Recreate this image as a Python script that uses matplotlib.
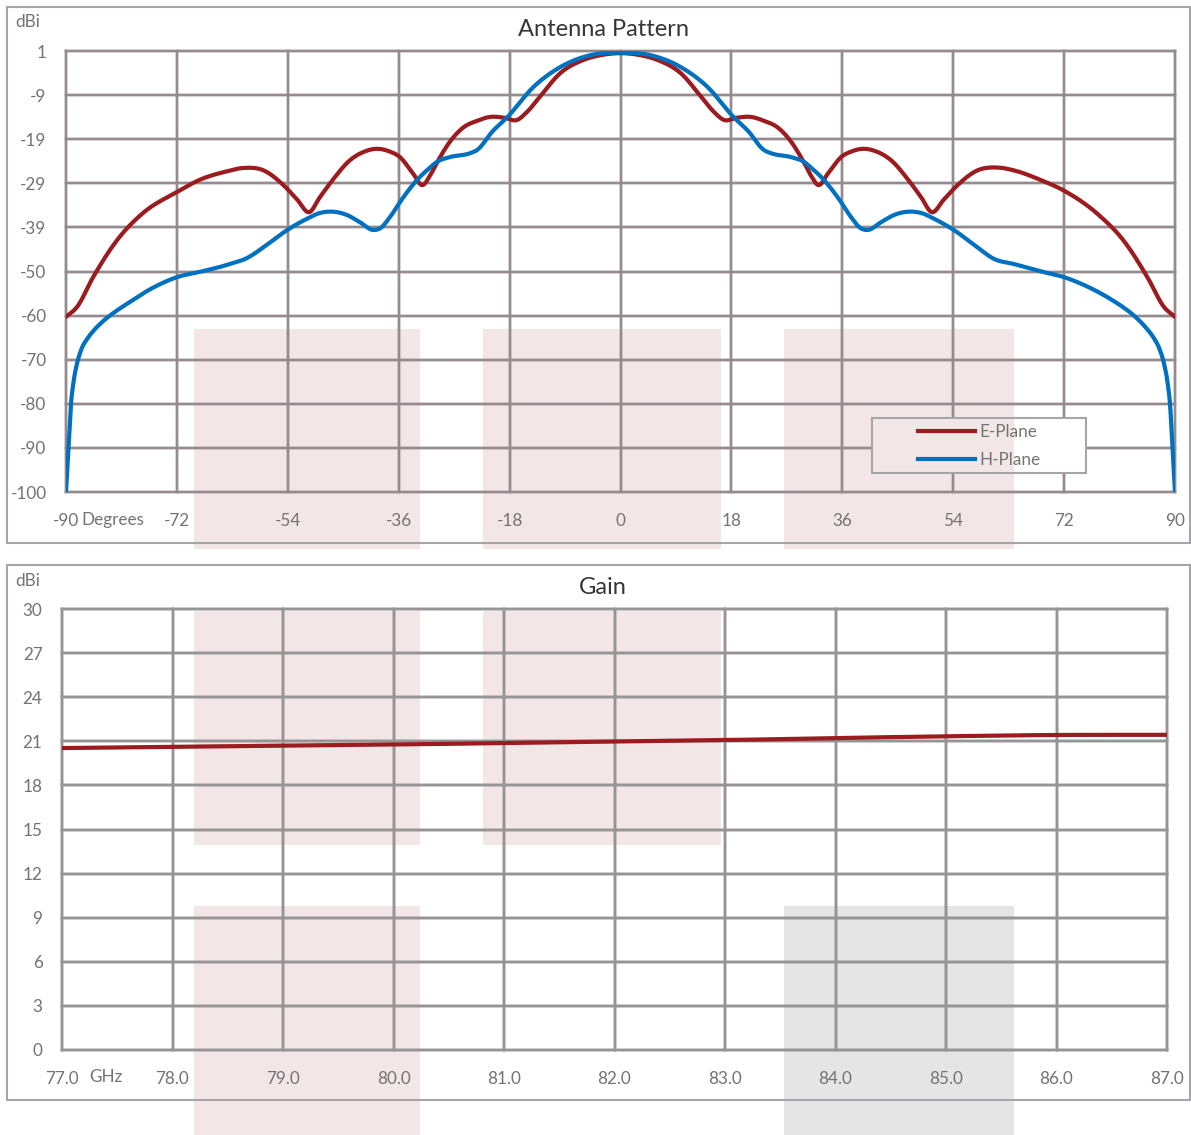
import matplotlib
matplotlib.use("Agg")
import matplotlib.pyplot as plt
from matplotlib.patches import Rectangle
from matplotlib.lines import Line2D
import numpy as np

# ---------------- data ----------------
pattern_xticks = [-90, -72, -54, -36, -18, 0, 18, 36, 54, 72, 90]
pattern_yticks = [-100, -89.9, -79.8, -69.7, -59.6, -49.5, -39.4, -29.3, -19.2, -9.1, 1]
pattern_ylabels = ["-100", "-90", "-80", "-70", "-60", "-50", "-39", "-29", "-19", "-9", "1"]

e_deg = [-90, -88.2, -85.6, -81.7, -77.5, -72, -68.3, -64, -61.3, -58, -54.5, -52.5, -50.5,
         -48.8, -46.7, -43.9, -41.5, -39.5, -37.5, -35.8, -33.7, -32.1, -30.9, -29.8, -27.7,
         -25.5, -23.3, -21.2, -18.8, -16.8, -15.2, -13.1, -9.8, -6.1, -3, 0,
         3, 6.1, 9.8, 13.1, 15.2, 16.8, 18.8, 21.2, 23.3, 25.5, 27.7, 29.8, 30.9, 32.1, 33.7,
         35.8, 37.5, 39.5, 41.5, 43.9, 46.7, 48.8, 50.5, 52.5, 54.5, 58, 61.3, 64, 68.3, 72,
         77.5, 81.7, 85.6, 88.2, 90]
e_plane = [-59.9, -57.6, -50.8, -42.3, -36.1, -31.3, -28.5, -26.6, -25.8, -26.3, -30.0, -33.0, -35.9,
           -32.5, -28.5, -24.0, -22.0, -21.4, -22.0, -23.3, -27.0, -29.7, -27.5, -24.6, -19.8,
           -16.5, -15.0, -14.1, -14.3, -14.8, -13.0, -9.5, -4.1, -1.1, 0.1, 0.5,
           0.1, -1.1, -4.1, -9.5, -13.0, -14.8, -14.3, -14.1, -15.0, -16.5, -19.8, -24.6, -27.5, -29.7, -27.0,
           -23.3, -22.0, -21.4, -22.0, -24.0, -28.5, -32.5, -35.9, -33.0, -30.0, -26.3, -25.7, -26.4, -28.6, -31.0,
           -36.4, -42.5, -51.0, -57.6, -59.9]

h_deg = [-90, -89.6, -89.2, -88.8, -88.2, -87.5, -86.5, -85.3, -83.5, -81.5, -80.1, -76, -72, -68,
         -63.9, -60.6, -57.5, -54.1, -51, -48.8, -46.7, -44.5, -42.3, -40.1, -39, -37.4, -35.5,
         -33, -31, -29.8, -27.7, -24.4, -23.3, -20.7, -18.4, -14.1, -9.8, -5, 0,
         5, 9.8, 14.1, 18.4, 20.7, 23.3, 24.4, 27.7, 29.8, 31, 33, 35.5, 37.4, 39, 40.1, 42.3,
         44.5, 46.7, 48.8, 51, 54.1, 57.5, 60.6, 63.9, 68, 72, 76, 80.1, 81.5, 83.5, 85.3,
         86.5, 87.5, 88.2, 88.8, 89.2, 89.6, 90]
h_plane = [-100, -90, -80, -75, -70.5, -67.3, -64.8, -62.7, -60.3, -58.2, -56.9, -53.3, -50.8, -49.5,
           -48.0, -46.4, -43.5, -40.0, -37.5, -36.1, -35.8, -36.5, -38.2, -40.0, -39.6, -37.0, -33.0,
           -28.5, -25.8, -24.4, -23.3, -22.4, -21.7, -17.3, -14.2, -7.2, -2.7, 0.0, 0.6,
           0.0, -2.7, -7.2, -14.2, -17.3, -21.7, -22.4, -23.3, -24.4, -25.8, -28.5, -33.0, -37.0, -39.6, -40.0, -38.2,
           -36.5, -35.8, -36.1, -37.5, -40.0, -43.5, -46.6, -47.8, -49.4, -50.8, -53.1, -56.3, -57.6, -59.8, -62.4,
           -64.6, -67.3, -70.5, -75, -80, -90, -100]

gain_xticks = [77, 78, 79, 80, 81, 82, 83, 84, 85, 86, 87]
gain_xlabels = ["77.0", "78.0", "79.0", "80.0", "81.0", "82.0", "83.0", "84.0", "85.0", "86.0", "87.0"]
gain_yticks = [0, 3, 6, 9, 12, 15, 18, 21, 24, 27, 30]
gain_freq = [77, 78, 79, 80, 81, 82, 83, 84, 85, 86, 87]
gain_dbi = [20.54, 20.62, 20.70, 20.78, 20.88, 20.98, 21.08, 21.22, 21.34, 21.43, 21.44]

# ---------------- helpers ----------------
def smooth(x, y, n=3000):
    """C1 cubic Hermite spline with three-point (parabolic) tangents."""
    x = np.asarray(x, float); y = np.asarray(y, float)
    h = np.diff(x); d = np.diff(y) / h
    m = np.zeros_like(y)
    m[1:-1] = (d[:-1] * h[1:] + d[1:] * h[:-1]) / (h[:-1] + h[1:])
    m[0] = d[0]; m[-1] = d[-1]
    xs = np.linspace(x[0], x[-1], n)
    idx = np.clip(np.searchsorted(x, xs) - 1, 0, len(x) - 2)
    t = (xs - x[idx]) / h[idx]
    h00 = 2 * t**3 - 3 * t**2 + 1; h10 = t**3 - 2 * t**2 + t
    h01 = -2 * t**3 + 3 * t**2; h11 = t**3 - t**2
    ys = h00 * y[idx] + h10 * h[idx] * m[idx] + h01 * y[idx + 1] + h11 * h[idx] * m[idx + 1]
    return xs, ys

W, H = 1191, 1135
def fx(px): return px / W
def fy(py): return 1 - py / H

RED = "#9B1B1E"
BLUE = "#0070C0"
GRID = "#A6A6AA"
GRID_PINK = "#958A8D"
GRID_GRAY = "#959597"
PINK = "#F3E6E6"
GRAYBOX = "#E5E5E5"
LABEL = "#737373"
TITLE = "#363636"
FONT = "Lato"
FS = 12.3

plt.rcParams["font.family"] = [FONT, "DejaVu Sans"]

fig = plt.figure(figsize=(W / 100, H / 100), dpi=100)

def frect(x0, y0, x1, y1, **kw):
    return Rectangle((fx(x0), fy(y1)), fx(x1) - fx(x0), fy(y0) - fy(y1),
                     transform=fig.transFigure, **kw)

# overlay boxes (behind axes)
top_pink = [(194, 329, 420, 549), (483, 329, 721, 549), (784, 329, 1014, 549)]
bot_pink = [(194, 611, 420, 845), (483, 611, 721, 845), (194, 906, 420, 1135)]
bot_gray = [(784, 906, 1014, 1135)]
for r in top_pink + bot_pink:
    fig.add_artist(frect(*r, facecolor=PINK, edgecolor="none", zorder=-2))
for r in bot_gray:
    fig.add_artist(frect(*r, facecolor=GRAYBOX, edgecolor="none", zorder=-2))

# panel borders
fig.add_artist(frect(7, 7, 1190, 543, facecolor="none", edgecolor=GRID, lw=1.5, zorder=-1))
fig.add_artist(frect(7, 565, 1190, 1100, facecolor="none", edgecolor=GRID, lw=1.5, zorder=-1))

def setup_axes(ax, xt, yt, xlim, ylim, boxes):
    ax.set_facecolor("none")
    ax.set_xlim(*xlim); ax.set_ylim(*ylim)
    for s in ax.spines.values():
        s.set_visible(False)
    ax.set_xticks(xt); ax.set_yticks(yt)
    ax.tick_params(length=0, labelsize=FS, labelcolor=LABEL)
    for v in xt:
        ax.axvline(v, color=GRID, lw=1.6, zorder=1, clip_on=False)
    for v in yt:
        ax.axhline(v, color=GRID, lw=1.6, zorder=1, clip_on=False)
    for (r, col) in boxes:
        for v in xt:
            ln = ax.axvline(v, color=col, lw=1.6, zorder=1.1)
            ln.set_clip_path(frect(*r))
            ln.set_clip_box(None)
        for v in yt:
            ln = ax.axhline(v, color=col, lw=1.6, zorder=1.1)
            ln.set_clip_path(frect(*r))
            ln.set_clip_box(None)

# ---------------- top panel ----------------
ax1 = fig.add_axes([fx(66), fy(492), fx(1175) - fx(66), fy(51) - fy(492)])
setup_axes(ax1, pattern_xticks, pattern_yticks, (-90, 90), (-100, 1),
           [(r, GRID_PINK) for r in top_pink])
ax1.set_yticklabels(pattern_ylabels)
ax1.set_xticklabels([str(v) for v in pattern_xticks])
ax1.tick_params(axis="x", pad=15)
ax1.tick_params(axis="y", pad=14)

xs, ys = smooth(e_deg, e_plane)
ax1.plot(xs, ys, color=RED, lw=3, zorder=3, solid_capstyle="round", label="E-Plane")
xs, ys = smooth(h_deg, h_plane)
ax1.plot(xs, ys, color=BLUE, lw=3, zorder=3, solid_capstyle="round", label="H-Plane")

fig.text(fx(81), fy(520), "Degrees", ha="left", va="center", fontsize=FS, color=LABEL)
fig.text(fx(603), fy(30), "Antenna Pattern", ha="center", va="center", fontsize=17, color=TITLE)
fig.text(fx(15), fy(22), "dBi", ha="left", va="center", fontsize=12.3, color=LABEL)

# legend box
fig.add_artist(frect(872, 418, 1086, 473, facecolor="white", edgecolor="none", zorder=2))
fig.add_artist(frect(872, 418, 1014, 473, facecolor=PINK, edgecolor="none", zorder=2.1))
fig.add_artist(frect(872, 418, 1086, 473, facecolor="none", edgecolor=GRID, lw=1.5, zorder=2.2))
handles = [Line2D([], [], color=RED, lw=3), Line2D([], [], color=BLUE, lw=3)]
leg = fig.legend(handles, ["E-Plane", "H-Plane"], loc="center",
                 bbox_to_anchor=(fx(979), fy(446)), frameon=False, fontsize=FS,
                 handlelength=3.35, handletextpad=0.25, labelspacing=0.75, borderpad=0)
for t in leg.get_texts():
    t.set_color(LABEL)
leg.set_zorder(5)

# ---------------- bottom panel ----------------
ax2 = fig.add_axes([fx(62), fy(1050), fx(1167) - fx(62), fy(609) - fy(1050)])
setup_axes(ax2, gain_xticks, gain_yticks, (77, 87), (0, 30),
           [(r, GRID_PINK) for r in bot_pink] + [(r, GRID_GRAY) for r in bot_gray])
ax2.set_xticklabels(gain_xlabels)
ax2.set_yticklabels([str(v) for v in gain_yticks])
ax2.tick_params(axis="x", pad=15)
ax2.tick_params(axis="y", pad=14)

xs, ys = smooth(gain_freq, gain_dbi)
ax2.plot(xs, ys, color=RED, lw=3, zorder=3)

fig.text(fx(89), fy(1077), "GHz", ha="left", va="center", fontsize=FS, color=LABEL)
fig.text(fx(603), fy(588), "Gain", ha="center", va="center", fontsize=17, color=TITLE)
fig.text(fx(15), fy(581), "dBi", ha="left", va="center", fontsize=12.3, color=LABEL)

fig.savefig("out.png", dpi=100)
